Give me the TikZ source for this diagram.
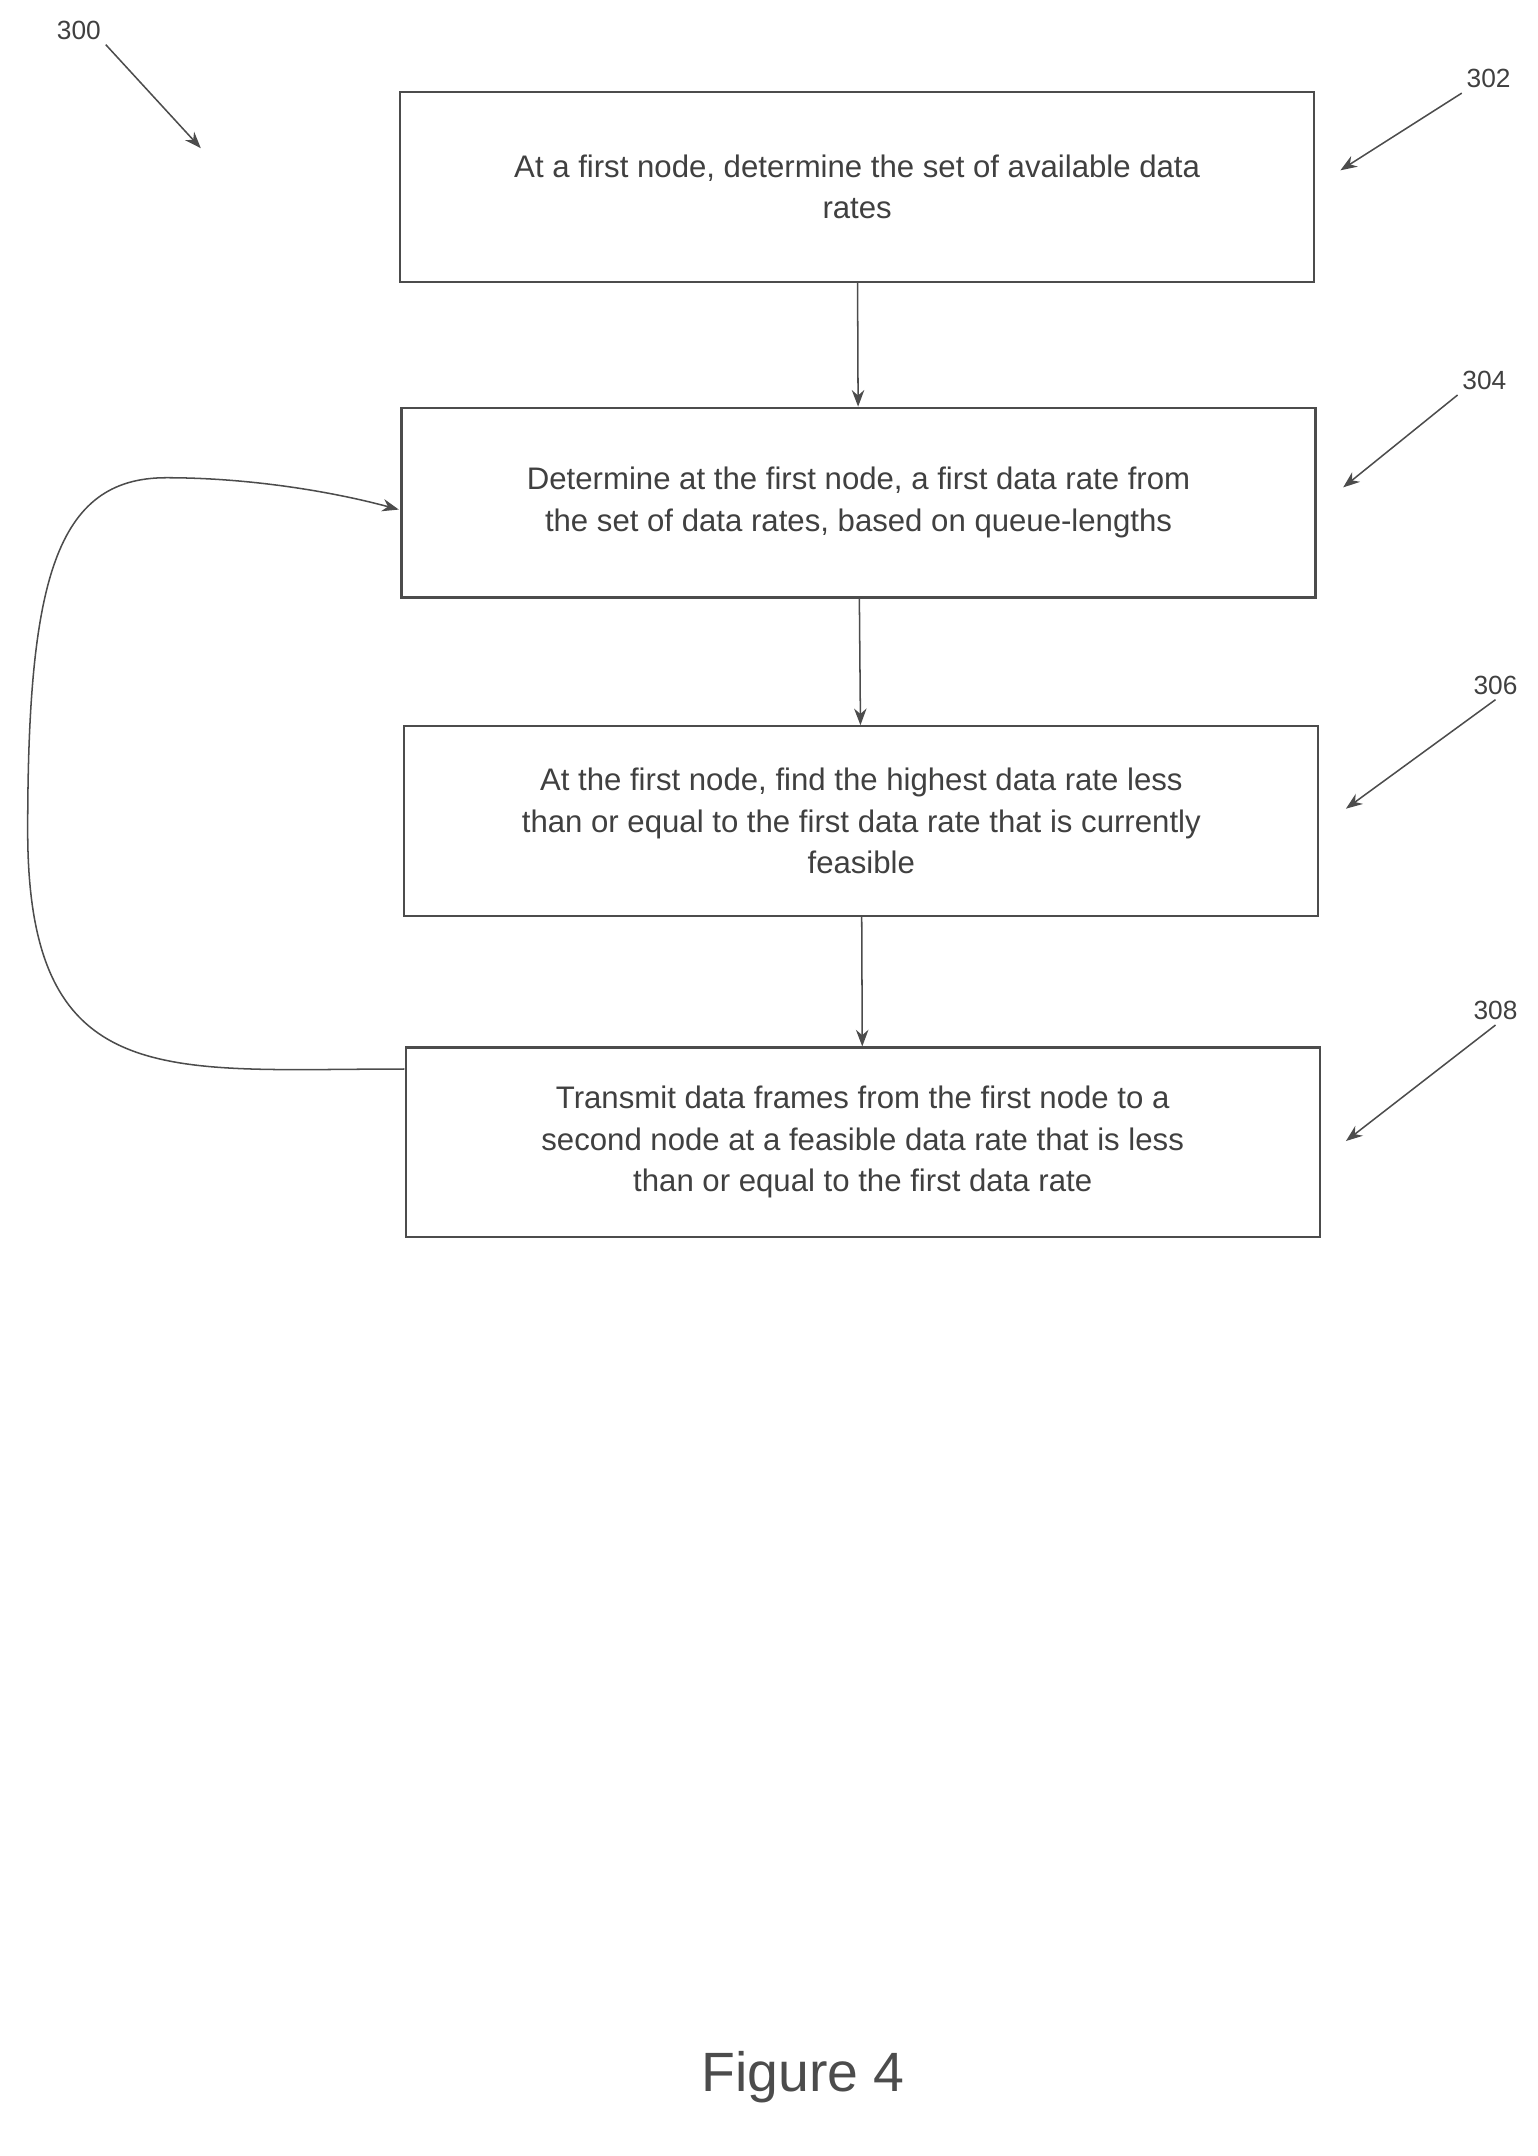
\documentclass[tikz,border=0pt]{standalone}
\usepackage{fontspec}
\setmainfont{Liberation Sans}
\usetikzlibrary{arrows.meta}
\begin{document}
\begin{tikzpicture}[x=1pt,y=-1pt,
  box/.style={draw=black!70,line width=1.6pt,minimum width=660pt,minimum height=137pt,align=center,font=\fontsize{22.5}{30}\selectfont,text=black!75},
  arr/.style={draw=black!70,line width=1.1pt,-{Stealth[length=12pt,width=9pt]}},
  lbl/.style={font=\fontsize{19}{22}\selectfont,text=black!75}]
\useasboundingbox (0,0) rectangle (1110,1557);
\node[box] (b302) at (619,135) {At a first node, determine the set of available data\\rates};
\node[box] (b304) at (620,363) {Determine at the first node, a first data rate from\\the set of data rates, based on queue-lengths};
\node[box] (b306) at (622,593) {At the first node, find the highest data rate less\\than or equal to the first data rate that is currently\\feasible};
\node[box] (b308) at (623,825) {Transmit data frames from the first node to a\\second node at a feasible data rate that is less\\than or equal to the first data rate};
\draw[arr] (b302) -- (b304);
\draw[arr] (b304) -- (b306);
\draw[arr] (b306) -- (b308);
\coordinate (l1) at (292,772);
\coordinate (l2) at (288,368);
\draw[arr] (l1) .. controls (120,772) and (20,790) .. (20,600) .. controls (20,420) and (40,345) .. (120,345) .. controls (180,345) and (240,355) .. (l2);
\node[lbl] (n300) at (57,22) {300};
\coordinate (a300) at (145,107);
\draw[arr] (n300.south east) -- (a300);
\node[lbl] (n302) at (1075,57) {302};
\coordinate (a302) at (968,123);
\draw[arr] (n302.south west) -- (a302);
\node[lbl] (n304) at (1072,275) {304};
\coordinate (a304) at (970,352);
\draw[arr] (n304.south west) -- (a304);
\node[lbl] (n306) at (1080,495) {306};
\coordinate (a306) at (972,584);
\draw[arr] (n306.south) -- (a306);
\node[lbl] (n308) at (1080,730) {308};
\coordinate (a308) at (972,824);
\draw[arr] (n308.south) -- (a308);
\node[font=\fontsize{40}{44}\selectfont,text=black!70] (fig) at (580,1500) {Figure 4};
\end{tikzpicture}
\end{document}
